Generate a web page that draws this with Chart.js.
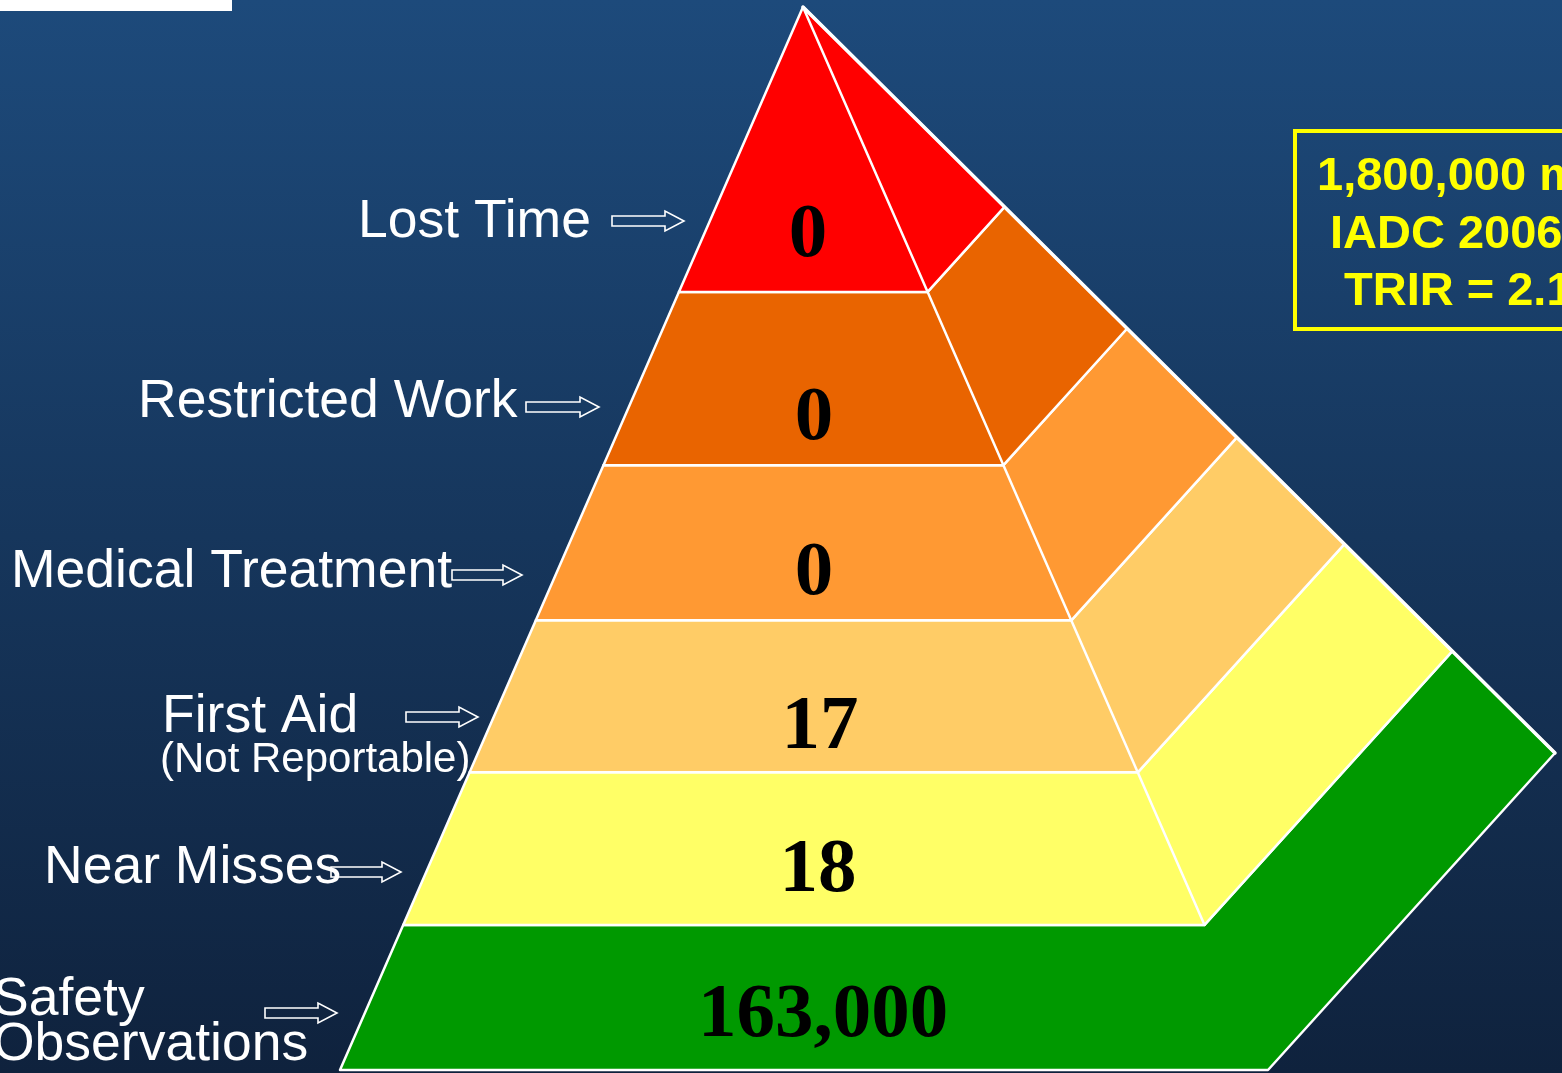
<!DOCTYPE html>
<html>
<head>
<meta charset="utf-8">
<title>Safety pyramid</title>
<script src="https://cdn.jsdelivr.net/npm/chart.js@4.4.1/dist/chart.umd.min.js"></script>
<style>
  html, body { margin: 0; padding: 0; background: #163660; overflow: hidden; }
  canvas { display: block; }
</style>
</head>
<body>
<canvas id="pyramid" width="1562" height="1073"></canvas>
<script>
// --- data (top of pyramid first) ---
const levelNames = ['Lost Time', 'Restricted Work', 'Medical Treatment', 'First Aid', 'Near Misses', 'Safety Observations'];
const levelNotes = ['', '', '', '(Not Reportable)', '', ''];
const levelCounts = [0, 0, 0, 17, 18, 163000];
const boxLines = ['1,800,000 man-hours', 'IADC 2006', 'TRIR = 2.1'];

// --- styles ---
const levelColors = ['#FF0000', '#E96400', '#FF9933', '#FFCC66', '#FFFF66', '#009900'];

// --- layout (axis units == canvas pixels) ---
const apex = [803, 7];
const baseLeft = [340, 1070];
const baseFront = [1268, 1070];
const baseSide = [1555, 753];
const levelBreaks = [0, 0.268, 0.431, 0.577, 0.72, 0.8635, 1];
const labelRows = [['Lost Time'], ['Restricted Work'], ['Medical Treatment'], ['First Aid', '(Not Reportable)'], ['Near Misses'], ['Safety', 'Observations']];
const labelLeft = [358, 138, 11, 162, 44, -7];
const labelBase = [237, 417, 587, 732, 883, 1015];
const arrowSpan = [[612, 684], [526, 599], [452, 522], [406, 478], [331, 401], [265, 337]];
const arrowY = [221, 407, 575, 717, 872, 1013];
const countX = [808, 814, 814, 820, 818, 823];
const countY = [236, 419, 574, 728, 871, 1016];

function pointAt(corner, t) {
  return { x: apex[0] + t * (corner[0] - apex[0]), y: apex[1] + t * (corner[1] - apex[1]) };
}

function levelRing(k) {
  const t0 = levelBreaks[k];
  const t1 = levelBreaks[k + 1];
  const ring = [
    pointAt(baseLeft, t0), pointAt(baseFront, t0), pointAt(baseSide, t0),
    pointAt(baseSide, t1), pointAt(baseFront, t1), pointAt(baseLeft, t1)
  ];
  ring.push(ring[0]);
  return ring;
}

const lineBase = {
  showLine: true,
  borderColor: '#FFFFFF',
  pointRadius: 0,
  pointHoverRadius: 0,
  tension: 0,
  borderJoinStyle: 'round',
  borderCapStyle: 'round'
};

const datasets = [
  // front/side ridge, drawn on top
  { ...lineBase, label: 'ridge', borderWidth: 2.5,
    data: [pointAt(baseFront, 0), pointAt(baseFront, levelBreaks[levelBreaks.length - 2])] },
  { ...lineBase, label: 'outer', borderWidth: 3.5,
    data: [pointAt(baseSide, 0), pointAt(baseSide, 1)] }
];
levelNames.forEach((name, k) => {
  datasets.push({ ...lineBase, label: name, isFace: true, borderWidth: 2.5,
    backgroundColor: levelColors[k], data: levelRing(k) });
});

// fills each face polygon from the points the scales have placed
const faceFill = {
  id: 'faceFill',
  beforeDatasetDraw(chart, args) {
    const ds = chart.data.datasets[args.index];
    if (!ds.isFace) return;
    const pts = args.meta.data;
    const ctx = chart.ctx;
    ctx.save();
    ctx.beginPath();
    pts.forEach((p, i) => (i ? ctx.lineTo(p.x, p.y) : ctx.moveTo(p.x, p.y)));
    ctx.closePath();
    ctx.fillStyle = ds.backgroundColor;
    ctx.fill();
    ctx.restore();
  }
};

const backdrop = {
  id: 'backdrop',
  beforeDraw(chart) {
    const { ctx, width, height } = chart;
    const g = ctx.createLinearGradient(0, 0, 0, height);
    g.addColorStop(0, '#1D4A7B');
    g.addColorStop(1, '#0F223D');
    ctx.save();
    ctx.fillStyle = g;
    ctx.fillRect(0, 0, width, height);
    ctx.fillStyle = '#FFFFFF';
    ctx.fillRect(0, 0, 232, 11);
    ctx.restore();
  }
};

function drawArrow(ctx, x0, tip, y) {
  const head = tip - 19;
  ctx.beginPath();
  ctx.moveTo(x0, y - 5);
  ctx.lineTo(head, y - 5);
  ctx.lineTo(head, y - 10);
  ctx.lineTo(tip, y);
  ctx.lineTo(head, y + 10);
  ctx.lineTo(head, y + 5);
  ctx.lineTo(x0, y + 5);
  ctx.closePath();
  ctx.stroke();
}

const annotations = {
  id: 'annotations',
  afterDatasetsDraw(chart) {
    const { ctx } = chart;
    const xs = chart.scales.x;
    const ys = chart.scales.y;
    const px = (v) => xs.getPixelForValue(v);
    const py = (v) => ys.getPixelForValue(v);
    ctx.save();

    // counts on the front face
    ctx.fillStyle = '#000000';
    ctx.font = 'bold 77px "Liberation Serif", "Times New Roman", serif';
    ctx.textAlign = 'center';
    ctx.textBaseline = 'middle';
    levelCounts.forEach((n, k) => {
      ctx.fillText(n.toLocaleString('en-US'), px(countX[k]), py(countY[k]));
    });

    // labels and arrows
    ctx.fillStyle = '#FFFFFF';
    ctx.strokeStyle = '#FFFFFF';
    ctx.lineWidth = 1.6;
    ctx.textAlign = 'left';
    ctx.textBaseline = 'alphabetic';
    labelRows.forEach((rows, k) => {
      rows.forEach((txt, j) => {
        const isNote = txt === levelNotes[k];
        ctx.font = (isNote ? '42px' : '53.5px') + ' "Liberation Sans", Arial, sans-serif';
        const step = isNote ? 40 : 45;
        ctx.fillText(txt, px(labelLeft[k] - (isNote ? 2 : 0)), py(labelBase[k] + j * step));
      });
      drawArrow(ctx, px(arrowSpan[k][0]), px(arrowSpan[k][1]), py(arrowY[k]));
    });

    // yellow note box
    ctx.strokeStyle = '#FFFF00';
    ctx.lineWidth = 4;
    ctx.strokeRect(px(1295), py(131), px(1700) - px(1295), py(329) - py(131));
    ctx.fillStyle = '#FFFF00';
    ctx.font = 'bold 47px "Liberation Sans", Arial, sans-serif';
    const boxLeft = [1317, 1330, 1344];
    const boxBase = [190, 248, 305];
    boxLines.forEach((txt, i) => ctx.fillText(txt, px(boxLeft[i]), py(boxBase[i])));

    ctx.restore();
  }
};

new Chart(document.getElementById('pyramid'), {
  type: 'scatter',
  data: { datasets },
  options: {
    responsive: false,
    devicePixelRatio: 1,
    animation: false,
    events: [],
    layout: { padding: 0 },
    plugins: { legend: { display: false }, tooltip: { enabled: false } },
    scales: {
      x: { type: 'linear', min: 0, max: 1562, display: false },
      y: { type: 'linear', min: 0, max: 1073, reverse: true, display: false }
    }
  },
  plugins: [backdrop, faceFill, annotations]
});
</script>
</body>
</html>
